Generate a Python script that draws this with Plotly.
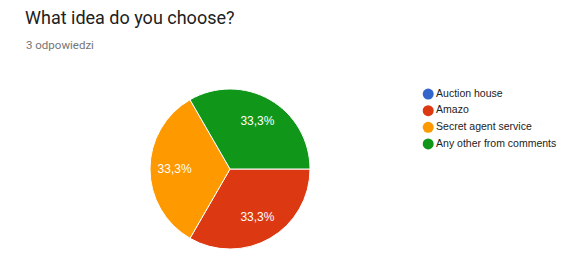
import plotly.graph_objects as go

labels = ["Auction house", "Amazo", "Secret agent service", "Any other from comments"]
values = [0, 1, 1, 1]
colors = ["#3366cc", "#dc3912", "#ff9900", "#109618"]
title_text = "What idea do you choose?"
subtitle_text = "3 odpowiedzi"

W, H = 586, 278
fig = go.Figure()

pie_domain = dict(x=[150 / W, 310 / W], y=[1 - 249 / H, 1 - 89 / H])

# Coloured slices
fig.add_trace(go.Pie(
    labels=labels, values=values, sort=False, direction="clockwise", rotation=90,
    marker=dict(colors=colors, line=dict(color="white", width=1)),
    textinfo="none", showlegend=False, hoverinfo="label+percent",
    domain=pie_domain,
))

# Percentage labels (ring overlay so text sits further out like the reference)
texttemplates = ["" if v == 0 else "%{percent:.1%}" for v in values]
fig.add_trace(go.Pie(
    labels=labels, values=values, sort=False, direction="clockwise", rotation=90,
    hole=0.38,
    marker=dict(colors=["rgba(0,0,0,0)"] * len(labels), line=dict(width=0)),
    texttemplate=texttemplates, textposition="inside",
    insidetextfont=dict(color="white", size=12, family="Arial"),
    showlegend=False, hoverinfo="skip",
    domain=pie_domain,
))

# Legend drawn as a small scatter on a hidden axis (circle markers, tight rows)
fig.add_trace(go.Scatter(
    x=[0] * len(labels), y=labels, mode="markers+text",
    marker=dict(symbol="circle", size=11, color=colors),
    text=labels, textposition="middle right",
    textfont=dict(family="Arial", size=10.5, color="#222222"),
    xaxis="x2", yaxis="y2", showlegend=False, hoverinfo="skip", cliponaxis=False,
))

fig.add_annotation(text=title_text, x=23 / W, y=1 - 5 / H, xref="paper", yref="paper",
                   xanchor="left", yanchor="top", showarrow=False,
                   font=dict(family="Roboto", size=18, color="#212121"))
fig.add_annotation(text=subtitle_text, x=24 / W, y=1 - 36 / H, xref="paper", yref="paper",
                   xanchor="left", yanchor="top", showarrow=False,
                   font=dict(family="Roboto", size=11.5, color="#757575"))

fig.update_layout(
    width=W, height=H, margin=dict(l=0, r=0, t=0, b=0),
    paper_bgcolor="white", plot_bgcolor="rgba(0,0,0,0)",
    separators=", ",
    xaxis=dict(visible=False), yaxis=dict(visible=False),
    xaxis2=dict(domain=[0.7, 1.0], range=[-18, 157.8], visible=False, fixedrange=True),
    yaxis2=dict(domain=[1 - 152.3 / H, 1 - 85.7 / H], type="category",
                categoryorder="array", categoryarray=labels[::-1],
                range=[-0.5, 3.5], visible=False, fixedrange=True, anchor="x2"),
    showlegend=False,
)

fig.write_html("out.html")
